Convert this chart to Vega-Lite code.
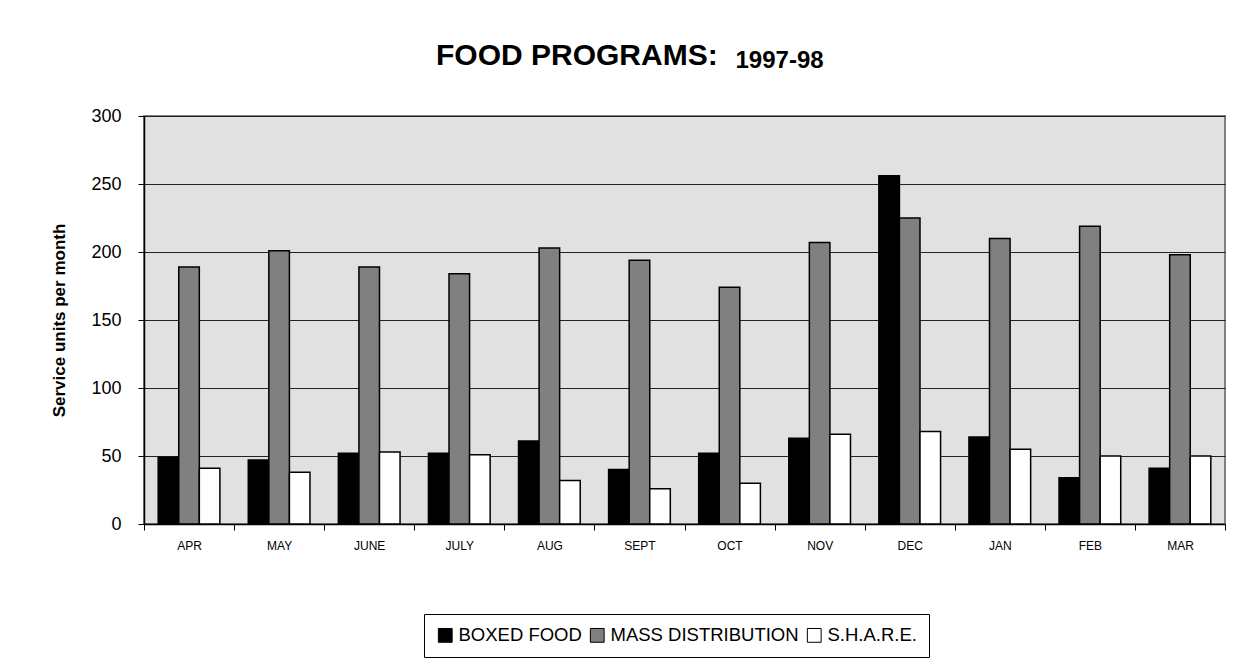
{
  "$schema": "https://vega.github.io/schema/vega-lite/v6.json",
  "autosize": {"type": "none"},
  "width": 1081,
  "height": 408,
  "padding": {"left": 144, "top": 116, "right": 24, "bottom": 146},
  "background": "white",
  "config": {
    "font": "Liberation Sans",
    "view": {"fill": "#e1e1e1", "stroke": "#808080", "strokeWidth": 2}
  },
  "title": {
    "text": "FOOD PROGRAMS:",
    "anchor": "start",
    "frame": "group",
    "dx": 292,
    "offset": -23,
    "font": "Liberation Sans",
    "fontSize": 30,
    "fontWeight": "bold",
    "color": "black"
  },
  "data": {
    "values": [
      {"month": "APR", "program": "BOXED FOOD", "value": 49},
      {"month": "APR", "program": "MASS DISTRIBUTION", "value": 189},
      {"month": "APR", "program": "S.H.A.R.E.", "value": 41},
      {"month": "MAY", "program": "BOXED FOOD", "value": 47},
      {"month": "MAY", "program": "MASS DISTRIBUTION", "value": 201},
      {"month": "MAY", "program": "S.H.A.R.E.", "value": 38},
      {"month": "JUNE", "program": "BOXED FOOD", "value": 52},
      {"month": "JUNE", "program": "MASS DISTRIBUTION", "value": 189},
      {"month": "JUNE", "program": "S.H.A.R.E.", "value": 53},
      {"month": "JULY", "program": "BOXED FOOD", "value": 52},
      {"month": "JULY", "program": "MASS DISTRIBUTION", "value": 184},
      {"month": "JULY", "program": "S.H.A.R.E.", "value": 51},
      {"month": "AUG", "program": "BOXED FOOD", "value": 61},
      {"month": "AUG", "program": "MASS DISTRIBUTION", "value": 203},
      {"month": "AUG", "program": "S.H.A.R.E.", "value": 32},
      {"month": "SEPT", "program": "BOXED FOOD", "value": 40},
      {"month": "SEPT", "program": "MASS DISTRIBUTION", "value": 194},
      {"month": "SEPT", "program": "S.H.A.R.E.", "value": 26},
      {"month": "OCT", "program": "BOXED FOOD", "value": 52},
      {"month": "OCT", "program": "MASS DISTRIBUTION", "value": 174},
      {"month": "OCT", "program": "S.H.A.R.E.", "value": 30},
      {"month": "NOV", "program": "BOXED FOOD", "value": 63},
      {"month": "NOV", "program": "MASS DISTRIBUTION", "value": 207},
      {"month": "NOV", "program": "S.H.A.R.E.", "value": 66},
      {"month": "DEC", "program": "BOXED FOOD", "value": 256},
      {"month": "DEC", "program": "MASS DISTRIBUTION", "value": 225},
      {"month": "DEC", "program": "S.H.A.R.E.", "value": 68},
      {"month": "JAN", "program": "BOXED FOOD", "value": 64},
      {"month": "JAN", "program": "MASS DISTRIBUTION", "value": 210},
      {"month": "JAN", "program": "S.H.A.R.E.", "value": 55},
      {"month": "FEB", "program": "BOXED FOOD", "value": 34},
      {"month": "FEB", "program": "MASS DISTRIBUTION", "value": 219},
      {"month": "FEB", "program": "S.H.A.R.E.", "value": 50},
      {"month": "MAR", "program": "BOXED FOOD", "value": 41},
      {"month": "MAR", "program": "MASS DISTRIBUTION", "value": 198},
      {"month": "MAR", "program": "S.H.A.R.E.", "value": 50}
    ]
  },
  "layer": [
    {
      "mark": {"type": "bar", "stroke": "black", "strokeWidth": 1.5},
      "encoding": {
        "x": {
          "field": "month",
          "type": "nominal",
          "sort": ["APR", "MAY", "JUNE", "JULY", "AUG", "SEPT", "OCT", "NOV", "DEC", "JAN", "FEB", "MAR"],
          "scale": {"paddingInner": 0, "paddingOuter": 0},
          "axis": {
            "orient": "bottom",
            "title": null,
            "labelAngle": 0,
            "labelFontSize": 12,
            "labelColor": "black",
            "labelPadding": 10,
            "tickBand": "extent",
            "tickSize": 6,
            "tickColor": "black",
            "domainColor": "black",
            "domainWidth": 1.5
          }
        },
        "xOffset": {
          "field": "program",
          "type": "nominal",
          "scale": {"paddingInner": 0, "paddingOuter": 0.69}
        },
        "y": {
          "field": "value",
          "type": "quantitative",
          "scale": {"domain": [0, 300]},
          "axis": {
            "title": "Service units per month",
            "titleFontSize": 17,
            "titleFontWeight": "bold",
            "titleColor": "black",
            "titlePadding": 22,
            "values": [0, 50, 100, 150, 200, 250, 300],
            "labelFontSize": 18,
            "labelColor": "black",
            "labelPadding": 17,
            "tickSize": 6,
            "tickColor": "black",
            "domainColor": "black",
            "domainWidth": 1.5,
            "grid": true,
            "gridColor": "#222222",
            "gridWidth": 1,
            "gridOpacity": 1
          }
        },
        "color": {
          "field": "program",
          "type": "nominal",
          "scale": {
            "domain": ["BOXED FOOD", "MASS DISTRIBUTION", "S.H.A.R.E."],
            "range": ["#000000", "#808080", "#ffffff"]
          },
          "legend": {
            "title": null,
            "orient": "none",
            "legendX": 280,
            "legendY": 498,
            "direction": "horizontal",
            "strokeColor": "black",
            "padding": 12,
            "symbolType": "square",
            "symbolSize": 190,
            "symbolStrokeColor": "black",
            "symbolStrokeWidth": 1,
            "symbolOpacity": 1,
            "labelFontSize": 18.5,
            "labelColor": "black",
            "labelOffset": 4,
            "columnPadding": 6,
            "labelLimit": 400
          }
        }
      }
    },
    {
      "mark": {"type": "tick", "opacity": 0},
      "encoding": {
        "x": {
          "field": "month",
          "type": "nominal",
          "sort": ["APR", "MAY", "JUNE", "JULY", "AUG", "SEPT", "OCT", "NOV", "DEC", "JAN", "FEB", "MAR"],
          "axis": {
            "orient": "top",
            "title": "1997-98",
            "titleFont": "Liberation Sans",
            "titleFontSize": 24,
            "titleFontWeight": "bold",
            "titleColor": "black",
            "titleAlign": "left",
            "titleAnchor": "start",
            "titleBaseline": "alphabetic",
            "titleX": 591,
            "titleY": -49,
            "labels": false,
            "ticks": false,
            "domain": false,
            "grid": false
          }
        }
      }
    }
  ],
  "resolve": {"axis": {"x": "independent"}}
}
